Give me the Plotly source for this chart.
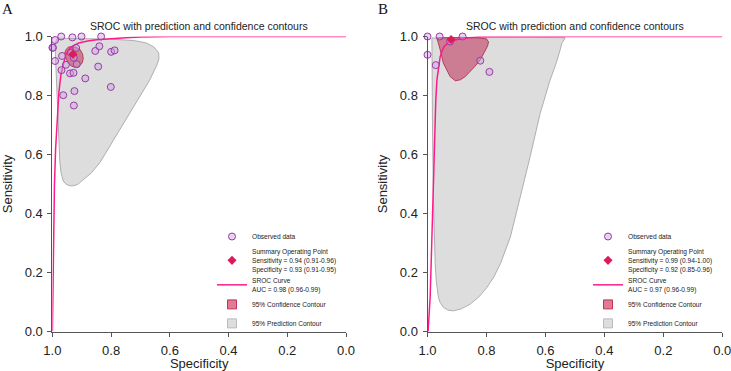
import plotly.graph_objects as go

W, H = 731, 371

# ---------------- Panel A data ----------------
obs_spec_A = [0.970, 0.932, 0.901, 0.834, 0.991, 1.000, 0.998, 0.991, 0.967, 0.937,
              0.919, 0.927, 0.917, 0.954, 0.969, 0.940, 0.928, 0.888, 0.854, 0.840,
              0.800, 0.788, 0.844, 0.801, 0.925, 0.963, 0.927]
obs_sens_A = [1.000, 0.997, 1.000, 1.000, 0.988, 0.962, 0.962, 0.917, 0.934, 0.945,
              0.961, 0.928, 0.906, 0.904, 0.886, 0.875, 0.877, 0.858, 0.951, 0.967,
              0.948, 0.953, 0.898, 0.829, 0.815, 0.801, 0.766]
summary_A = (0.93, 0.94)  # (specificity, sensitivity)

sroc_spec_A = [1.0, 0.998, 0.996, 0.993, 0.989, 0.984, 0.978, 0.971, 0.963, 0.955,
               0.942, 0.930, 0.910, 0.880, 0.850, 0.800, 0.750, 0.700, 0.600, 0.0]
sroc_sens_A = [0.0, 0.20, 0.40, 0.50, 0.62, 0.73, 0.81, 0.87, 0.91, 0.937,
               0.958, 0.968, 0.978, 0.985, 0.989, 0.993, 0.996, 0.998, 1.0, 1.0]

conf_spec_A = [0.935, 0.918, 0.905, 0.897, 0.895, 0.899, 0.908, 0.922, 0.936, 0.947,
               0.955, 0.958, 0.952, 0.945, 0.935]
conf_sens_A = [0.966, 0.963, 0.955, 0.940, 0.924, 0.910, 0.900, 0.895, 0.900, 0.912,
               0.930, 0.945, 0.958, 0.964, 0.966]

pred_spec_A = [0.980, 0.900, 0.800, 0.720, 0.680, 0.655, 0.638, 0.637, 0.645, 0.670,
               0.701, 0.735, 0.769, 0.805, 0.838, 0.868, 0.894, 0.915, 0.934, 0.952,
               0.963, 0.971, 0.975, 0.980, 0.985, 0.990, 0.991, 0.986, 0.980]
pred_sens_A = [0.994, 0.993, 0.991, 0.986, 0.978, 0.965, 0.945, 0.925, 0.901, 0.850,
               0.799, 0.742, 0.686, 0.628, 0.573, 0.537, 0.514, 0.498, 0.493, 0.498,
               0.510, 0.540, 0.580, 0.686, 0.799, 0.913, 0.970, 0.990, 0.994]

# ---------------- Panel B data ----------------
obs_spec_B = [1.000, 0.959, 0.881, 1.000, 0.972, 0.821, 0.790, 0.923]
obs_sens_B = [1.000, 1.000, 1.000, 0.938, 0.903, 0.918, 0.880, 0.983]
summary_B = (0.92, 0.99)

sroc_spec_B = [0.998, 0.994, 0.991, 0.987, 0.982, 0.976, 0.972, 0.968, 0.962, 0.957,
               0.950, 0.943, 0.933, 0.923, 0.900, 0.878, 0.850, 0.821, 0.780, 0.0]
sroc_sens_B = [0.0, 0.06, 0.116, 0.25, 0.456, 0.683, 0.78, 0.853, 0.90, 0.932,
               0.952, 0.966, 0.976, 0.983, 0.990, 0.994, 0.997, 0.999, 1.0, 1.0]

conf_spec_B = [0.968, 0.900, 0.830, 0.800, 0.793, 0.796, 0.808, 0.821, 0.838, 0.855,
               0.872, 0.889, 0.906, 0.923, 0.935, 0.946, 0.957, 0.962, 0.968]
conf_sens_B = [0.995, 0.997, 0.996, 0.992, 0.982, 0.968, 0.945, 0.921, 0.900, 0.881,
               0.864, 0.853, 0.850, 0.864, 0.885, 0.909, 0.955, 0.975, 0.995]

pred_spec_B = [0.985, 0.800, 0.650, 0.533, 0.545, 0.550, 0.565, 0.584, 0.618, 0.652,
               0.686, 0.719, 0.753, 0.775, 0.798, 0.825, 0.855, 0.885, 0.912, 0.930,
               0.946, 0.957, 0.963, 0.970, 0.974, 0.980, 0.983, 0.985, 0.985]
pred_sens_B = [0.995, 0.997, 0.997, 0.996, 0.975, 0.955, 0.905, 0.853, 0.739, 0.592,
               0.456, 0.320, 0.229, 0.185, 0.150, 0.118, 0.093, 0.077, 0.070, 0.072,
               0.082, 0.098, 0.116, 0.170, 0.229, 0.456, 0.683, 0.909, 0.995]

# ---------------- Text ----------------
panel_letters = ["A", "B"]
plot_title = "SROC with prediction and confidence contours"
x_title = "Specificity"
y_title = "Sensitivity"
tick_vals = [0.0, 0.2, 0.4, 0.6, 0.8, 1.0]
tick_text = ["0.0", "0.2", "0.4", "0.6", "0.8", "1.0"]
legend_obs = "Observed data"
legend_sum = ["Summary Operating Point<br>Sensitivity = 0.94 (0.91-0.96)<br>Specificity = 0.93 (0.91-0.95)",
              "Summary Operating Point<br>Sensitivity = 0.99 (0.94-1.00)<br>Specificity = 0.92 (0.85-0.96)"]
legend_sroc = ["SROC Curve<br>AUC = 0.98 (0.96-0.99)",
               "SROC Curve<br>AUC = 0.97 (0.96-0.99)"]
legend_conf = "95% Confidence Contour"
legend_pred = "95% Prediction Contour"

# ---------------- Styles ----------------
FONT = "Liberation Sans, Arial, sans-serif"
PRED_FILL = "#DDDDDD"
PRED_LINE = "#AEAEAE"
CONF_FILL = "rgba(190,45,85,0.55)"
CONF_LINE = "rgba(175,40,80,0.85)"
SROC_COL = "#FF1A8C"
OBS_LINE = "#9A3AA8"
OBS_FILL = "rgba(205,160,225,0.45)"
SUM_COL = "#DC1C5A"
AXIS_COL = "#555555"

fig = go.Figure()

panels = [
    dict(xa="x", ya="y", lg="legend", obs=(obs_spec_A, obs_sens_A), summ=summary_A,
         sroc=(sroc_spec_A, sroc_sens_A), conf=(conf_spec_A, conf_sens_A),
         pred=(pred_spec_A, pred_sens_A)),
    dict(xa="x2", ya="y2", lg="legend2", obs=(obs_spec_B, obs_sens_B), summ=summary_B,
         sroc=(sroc_spec_B, sroc_sens_B), conf=(conf_spec_B, conf_sens_B),
         pred=(pred_spec_B, pred_sens_B)),
]

for i, p in enumerate(panels):
    common = dict(xaxis=p["xa"], yaxis=p["ya"], legend=p["lg"])
    fig.add_trace(go.Scatter(x=p["pred"][0], y=p["pred"][1], mode="lines", fill="toself",
                             fillcolor=PRED_FILL, line=dict(color=PRED_LINE, width=1),
                             showlegend=False, hoverinfo="skip", **common))
    fig.add_trace(go.Scatter(x=p["conf"][0], y=p["conf"][1], mode="lines", fill="toself",
                             fillcolor=CONF_FILL, line=dict(color=CONF_LINE, width=1),
                             showlegend=False, hoverinfo="skip", **common))
    fig.add_trace(go.Scatter(x=p["sroc"][0], y=p["sroc"][1], mode="lines",
                             line=dict(color=SROC_COL, width=1.5),
                             name=legend_sroc[i], legendrank=3, **common))
    fig.add_trace(go.Scatter(x=p["obs"][0], y=p["obs"][1], mode="markers", cliponaxis=False,
                             marker=dict(symbol="circle", size=7, color=OBS_FILL,
                                         line=dict(color=OBS_LINE, width=1)),
                             name=legend_obs, legendrank=1, **common))
    fig.add_trace(go.Scatter(x=[p["summ"][0]], y=[p["summ"][1]], mode="markers", cliponaxis=False,
                             marker=dict(symbol="diamond", size=7, color=SUM_COL,
                                         line=dict(width=0)),
                             name=legend_sum[i], legendrank=2, **common))
    fig.add_trace(go.Scatter(x=[None], y=[None], mode="markers",
                             marker=dict(symbol="square", size=9, color="#E07A95",
                                         line=dict(color="#C0365A", width=1)),
                             name=legend_conf, legendrank=4, **common))
    fig.add_trace(go.Scatter(x=[None], y=[None], mode="markers",
                             marker=dict(symbol="square", size=9, color="#DDDDDD",
                                         line=dict(color="#BBBBBB", width=1)),
                             name=legend_pred, legendrank=5, **common))

# plot area pixel boxes
xA = (52.4, 346.0)
xB = (427.5, 722.3)
yTop, yBot = 36.5, 331.5


def xdom(a):
    return [a[0] / W, a[1] / W]


ydom = [(H - yBot) / H, (H - yTop) / H]

axis_common = dict(range=[1, 0], tickvals=tick_vals, ticktext=tick_text, showgrid=False,
                   zeroline=False, showline=True, linecolor=AXIS_COL, linewidth=1,
                   ticks="outside", ticklen=4, tickcolor=AXIS_COL, tickwidth=1,
                   automargin=False, ticklabelstandoff=3, ticklabeloverflow="allow",
                   tickfont=dict(family=FONT, size=13, color="#222222"),
                   title=dict(text=x_title, font=dict(family=FONT, size=13, color="#222222"),
                              standoff=4))
yaxis_common = dict(range=[0, 1], tickvals=tick_vals, ticktext=tick_text, showgrid=False,
                    zeroline=False, showline=True, linecolor=AXIS_COL, linewidth=1,
                    ticks="outside", ticklen=4, tickcolor=AXIS_COL, tickwidth=1,
                    automargin=False, ticklabelstandoff=2, ticklabeloverflow="allow",
                    tickfont=dict(family=FONT, size=13, color="#222222"),
                    title=dict(text=y_title, font=dict(family=FONT, size=13, color="#222222"),
                               standoff=9), domain=ydom)

legend_common = dict(font=dict(family=FONT, size=6.6, color="#222222"),
                     bgcolor="rgba(0,0,0,0)", borderwidth=0, xanchor="left",
                     yanchor="top", traceorder="normal", tracegroupgap=0,
                     itemsizing="trace", itemwidth=30)

fig.update_layout(
    width=W, height=H,
    margin=dict(l=0, r=0, t=0, b=0, autoexpand=False),
    paper_bgcolor="white", plot_bgcolor="white",
    xaxis=dict(domain=xdom(xA), anchor="y", **axis_common),
    yaxis=dict(anchor="x", **yaxis_common),
    xaxis2=dict(domain=xdom(xB), anchor="y2", **axis_common),
    yaxis2=dict(anchor="x2", **yaxis_common),
    legend=dict(x=212 / W, y=(H - 222) / H, **legend_common),
    legend2=dict(x=588 / W, y=(H - 222) / H, **legend_common),
    showlegend=True,
)

annotations = []
for i, xr in enumerate([xA, xB]):
    cx = (xr[0] + xr[1]) / 2
    annotations.append(dict(text=plot_title, x=cx / W, y=(H - 25.5) / H, xref="paper",
                            yref="paper", xanchor="center", yanchor="middle",
                            showarrow=False,
                            font=dict(family=FONT, size=10.5, color="#222222")))
    annotations.append(dict(text=panel_letters[i], x=(xr[0] - 45) / W, y=(H - 8.5) / H,
                            xref="paper", yref="paper", xanchor="center", yanchor="middle",
                            showarrow=False,
                            font=dict(family="Liberation Serif, Times New Roman, serif",
                                      size=15, color="#111111")))
fig.update_layout(annotations=annotations)

fig.write_html("out.html")
